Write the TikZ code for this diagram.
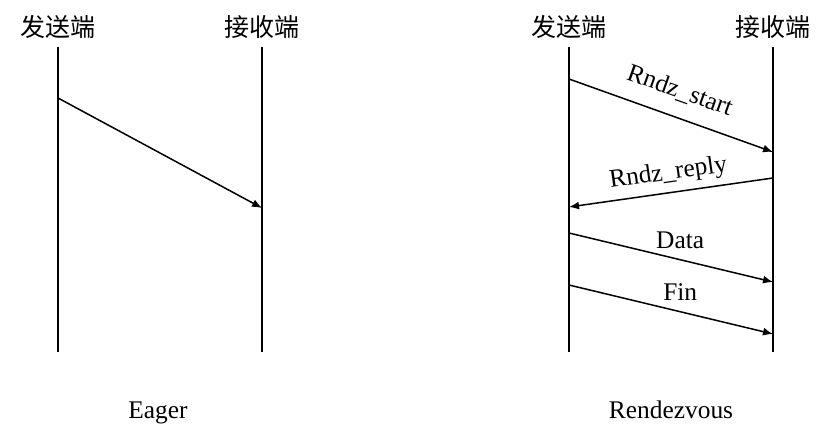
\documentclass[tikz,border=0pt]{standalone}
\usepackage{fontspec}
\setmainfont{Liberation Serif}
\newfontfamily\cjk{Noto Sans CJK SC}
\usetikzlibrary{positioning,arrows.meta}
\tikzstyle{party}=[font=\cjk\fontsize{12.5}{15}\selectfont, inner sep=0pt]
\tikzstyle{life}=[line width=1.1pt]
\tikzstyle{msg}=[line width=0.75pt, -{Latex[length=5pt,width=4pt]}]
\tikzstyle{lbl}=[font=\fontsize{12.7}{15}\selectfont, inner sep=0pt, text depth=0pt]

\begin{document}
\begin{tikzpicture}[x=0.5pt,y=-0.5pt,node distance=102pt]
\useasboundingbox (0,0) rectangle (828,439);

% Eager
\node[party] at (58,27) (send1) {发送端};
\node[party, right of = send1] (recv1) {接收端};
\coordinate (send1top) at (58,47);
\coordinate (send1bot) at (58,352);
\coordinate (recv1top) at (262,47);
\coordinate (recv1bot) at (262,352);
\draw[life] (send1top) -- (send1bot);
\draw[life] (recv1top) -- (recv1bot);

\coordinate (eagerout) at (58,98);
\coordinate (eagerin) at (262,208);
\draw[msg] (eagerout) -- (eagerin);

\node[lbl, anchor=base] at (158,418) (eager) {Eager};

% Rendezvous
\node[party] at (569,27) (send2) {发送端};
\node[party, right of = send2] (recv2) {接收端};
\coordinate (send2top) at (569,47);
\coordinate (send2bot) at (569,352);
\coordinate (recv2top) at (773,47);
\coordinate (recv2bot) at (773,352);
\draw[life] (send2top) -- (send2bot);
\draw[life] (recv2top) -- (recv2bot);

\coordinate (startout) at (569,79);
\coordinate (startin) at (773,152);
\coordinate (replyout) at (773,178);
\coordinate (replyin) at (569,207);
\coordinate (dataout) at (569,233);
\coordinate (datain) at (773,282);
\coordinate (finout) at (569,285);
\coordinate (finin) at (773,334);

\draw[msg] (startout) -- node[lbl, sloped, above, outer sep=9.5pt, pos=0.5] (start) {Rndz\_start} (startin);
\draw[msg] (replyout) -- node[lbl, sloped, above, outer sep=6.5pt, pos=0.5] (reply) {Rndz\_reply} (replyin);
\draw[msg] (dataout) -- node[lbl, above, outer sep=5.5pt, pos=0.545] (data) {Data} (datain);
\draw[msg] (finout) -- node[lbl, above, outer sep=5.5pt, pos=0.545] (fin) {Fin} (finin);

\node[lbl, anchor=base] at (671,418) (rdv) {Rendezvous};
\end{tikzpicture}
\end{document}
